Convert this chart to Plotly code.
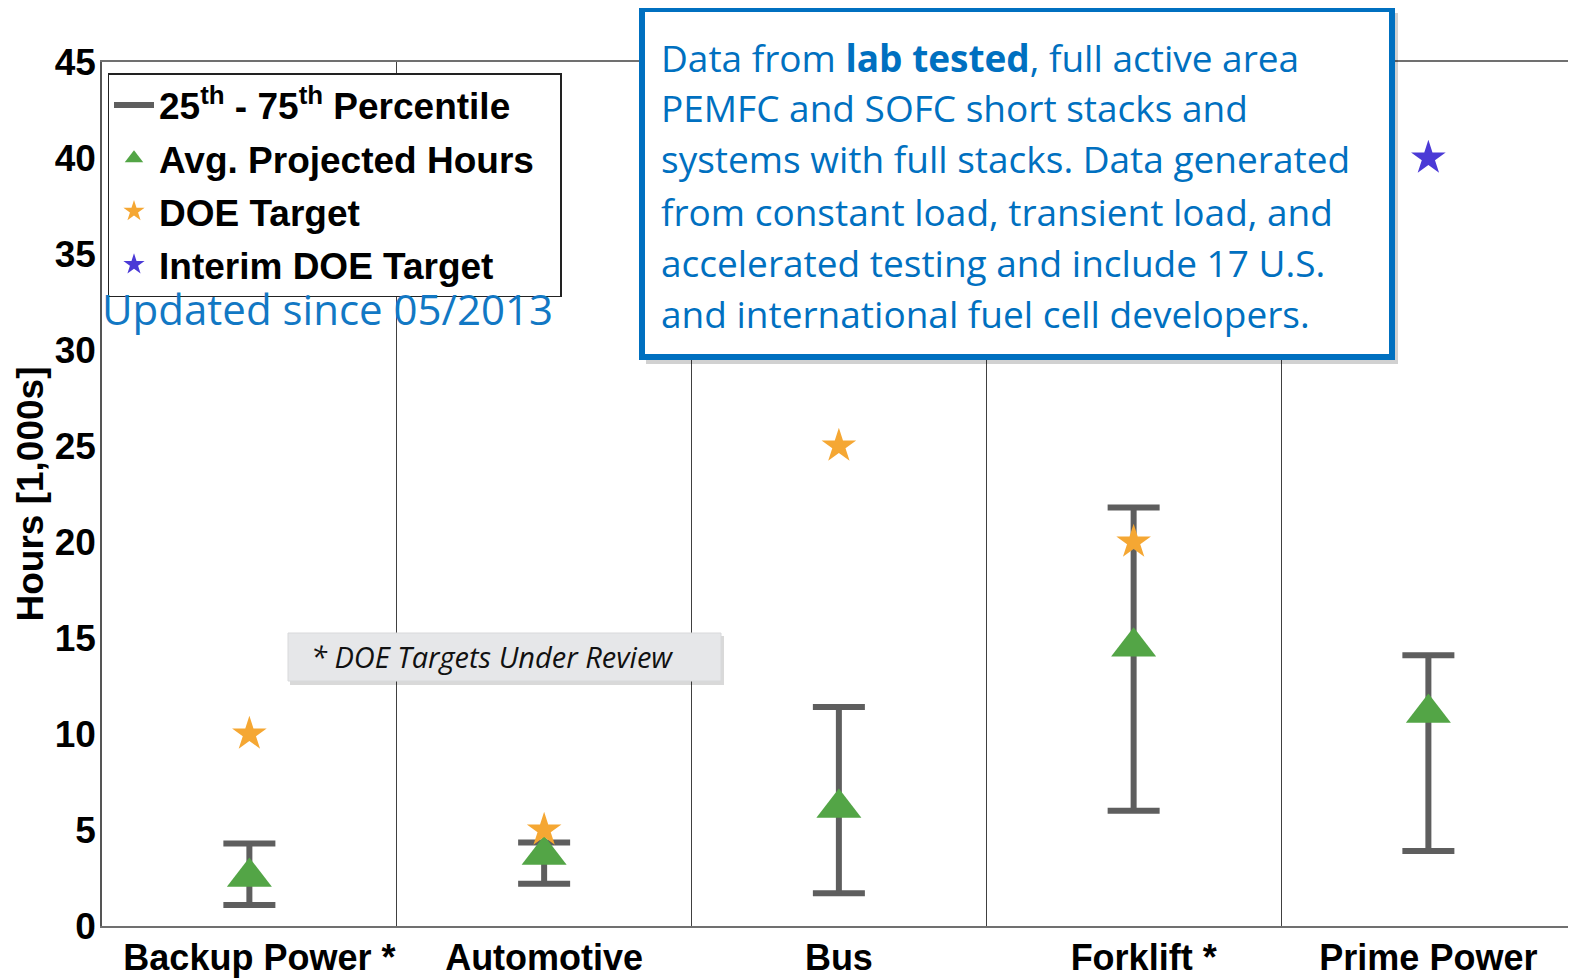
import plotly.graph_objects as go

# ---- data ----
categories = ["Backup Power *", "Automotive", "Bus", "Forklift *", "Prime Power"]
p25 = [1.1, 2.2, 1.7, 6.0, 3.9]
p75 = [4.3, 4.35, 11.4, 21.8, 14.1]
avg_hours = [2.55, 3.7, 6.15, 14.55, 11.1]
doe_target = [10, 5, 25, 20, None]
interim_target = [None, None, None, None, 40]
y_ticks = [0, 5, 10, 15, 20, 25, 30, 35, 40, 45]

info_lines = [
    "Data from <b>lab tested</b>, full active area",
    "PEMFC and SOFC short stacks and",
    "systems with full stacks. Data generated",
    "from constant load, transient load, and",
    "accelerated testing and include 17 U.S.",
    "and international fuel cell developers.",
]

# page body has an 8px margin
OFF = 8
W, H = 1568, 972
ML, MR, MT, MB = 94, 0, 54, 54
PW, PH = W - ML - MR, H - MT - MB
X_RANGE = [-0.5, -0.5 + PW / 294.75]


def px(x):  # screen px -> paper
    return (x - OFF - ML) / PW


def py(y):  # screen px -> paper
    return (H - MB - (y - OFF)) / PH


xs = list(range(len(categories)))
# labels with a trailing asterisk keep their main word centred on the category
tick_text = [("\u00a0\u00a0" + c) if c.endswith("*") else c for c in categories]

seg_x, seg_y = [], []
for i in xs:
    seg_x += [i, i, None]
    seg_y += [p25[i], p75[i], None]

GRAY = "#5e5e5e"
fig = go.Figure()
fig.add_trace(go.Scatter(
    x=seg_x, y=seg_y, mode="lines",
    line=dict(color=GRAY, width=6),
    error_y=dict(type="data", array=[0 if v is not None else None for v in seg_y],
                 color=GRAY, thickness=6, width=26),
    name="25<sup>th</sup> - 75<sup>th</sup> Percentile",
    legendgroup="a", legendrank=1,
))
fig.add_trace(go.Scatter(
    x=xs, y=avg_hours, mode="markers",
    marker=dict(symbol="triangle-up", size=39, color="#53a546"),
    name="Avg. Projected Hours\u00a0\u00a0", legendgroup="b", legendrank=2,
))
fig.add_trace(go.Scatter(
    x=xs, y=doe_target, mode="markers",
    marker=dict(symbol="star", size=26, color="#f5a733"),
    name="DOE Target", legendgroup="c", legendrank=3,
))
fig.add_trace(go.Scatter(
    x=xs, y=interim_target, mode="markers",
    marker=dict(symbol="star", size=26, color="#4b3ad6"),
    name="Interim DOE Target", legendgroup="d", legendrank=4,
))

BOLD = dict(family="Liberation Sans, Arial", size=37, color="black", weight="bold")
BOLD_X = dict(BOLD, size=36)

fig.update_layout(
    width=W, height=H,
    margin=dict(l=ML, r=MR, t=MT, b=MB, autoexpand=False),
    paper_bgcolor="white", plot_bgcolor="white",
    showlegend=True,
    legend=dict(
        x=px(107.5), y=py(73), xanchor="left", yanchor="top",
        bgcolor="white", bordercolor="#222", borderwidth=1.5,
        font=BOLD, tracegroupgap=2, itemwidth=40,
    ),
    xaxis=dict(
        range=X_RANGE, tickmode="array", tickvals=xs, ticktext=tick_text,
        tickfont=BOLD_X, showgrid=False, zeroline=False,
        showline=True, linecolor="#707070", linewidth=2, mirror=True,
        ticks="", ticklabelstandoff=-1,
        minor=dict(tickmode="array", tickvals=[i + 0.5 for i in xs[:-1]],
                   showgrid=True, gridcolor="#404040", gridwidth=1),
        automargin=False,
    ),
    yaxis=dict(
        range=[0, 45], tickmode="array", tickvals=y_ticks,
        tickfont=BOLD, showgrid=False, zeroline=False,
        showline=True, linecolor="#555", linewidth=1.5,
        ticks="", ticklabelstandoff=-3,
        title=dict(text="Hours [1,000s]", font=BOLD, standoff=0),
        automargin=False,
    ),
)

shapes = []
shapes.append(dict(type="rect", xref="paper", yref="paper",
                   x0=px(646), x1=px(1398), y0=py(13), y1=py(364),
                   fillcolor="rgba(0,0,0,0.18)", line=dict(width=0), layer="above"))
shapes.append(dict(type="rect", xref="paper", yref="paper",
                   x0=px(642), x1=px(1392), y0=py(9), y1=py(357),
                   fillcolor="white", line=dict(color="#0070c0", width=6), layer="above"))
shapes.append(dict(type="rect", xref="paper", yref="paper",
                   x0=px(290), x1=px(724), y0=py(636), y1=py(685),
                   fillcolor="rgba(0,0,0,0.15)", line=dict(width=0), layer="above"))
shapes.append(dict(type="rect", xref="paper", yref="paper",
                   x0=px(288), x1=px(721), y0=py(633), y1=py(681),
                   fillcolor="#e6e7e9", line=dict(color="#d8d9db", width=1), layer="above"))
fig.update_layout(shapes=shapes)

BLUE = "#0070c0"
line_y = [57.5, 108, 159, 211, 262, 313.5]
for txt, yy in zip(info_lines, line_y):
    fig.add_annotation(xref="paper", yref="paper", x=px(659), y=py(yy),
                       xanchor="left", yanchor="middle", showarrow=False,
                       text=txt, font=dict(family="Open Sans", size=37, color=BLUE))

fig.add_annotation(xref="paper", yref="paper", x=px(100), y=py(308),
                   xanchor="left", yanchor="middle", showarrow=False,
                   text="Updated since 05/2013",
                   font=dict(family="Open Sans", size=42, color="#1278c4"))

fig.add_annotation(xref="paper", yref="paper", x=px(309), y=py(656),
                   xanchor="left", yanchor="middle", showarrow=False,
                   text="<i>* DOE Targets Under Review</i>",
                   font=dict(family="Open Sans", size=29, color="#111"))

fig.write_html("out.html")
